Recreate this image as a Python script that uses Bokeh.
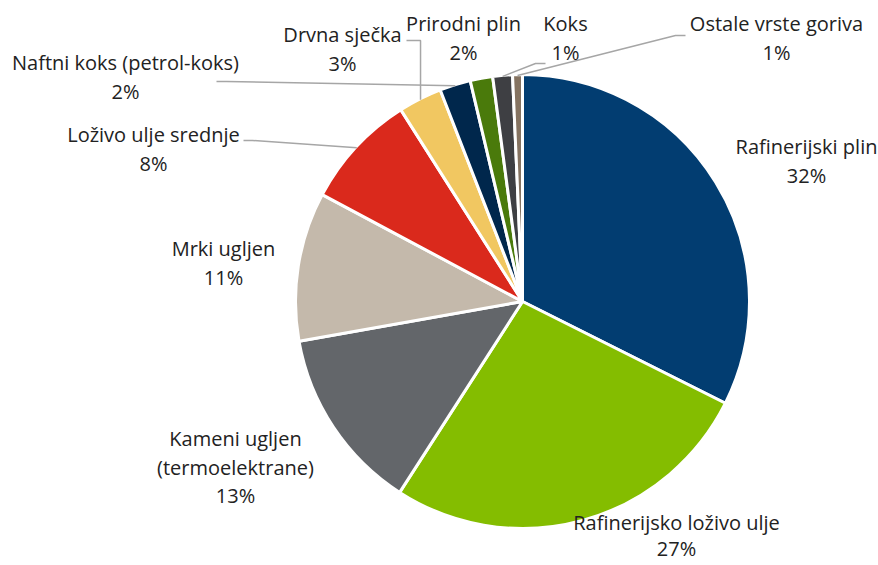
import numpy as np
from bokeh.plotting import figure
from bokeh.models import Range1d, ColumnDataSource
from bokeh.core.properties import value
from bokeh.embed import file_html
from bokeh.resources import INLINE

# ---- data ----
categories = ["Rafinerijski plin", "Rafinerijsko loživo ulje", "Kameni ugljen\n(termoelektrane)",
              "Mrki ugljen", "Loživo ulje srednje", "Drvna sječka", "Naftni koks (petrol-koks)",
              "Prirodni plin", "Koks", "Ostale vrste goriva"]
shares = [32.4, 26.7, 13.1, 10.6, 8.2, 3.1, 2.2, 1.6, 1.4, 0.7]
colors = ["#023D71", "#84BD00", "#63666A", "#C4B9AB", "#DA291C",
          "#F1C761", "#00274C", "#4A7A0B", "#3E3F43", "#857361"]

# ---- layout (pixel coords of the 878x565 page) ----
W, H = 878, 565
CX, CY, R = 522, 301, 227
label_pos = [(806, 146), (676, 522), (235, 438), (223, 248), (153, 134),
             (342, 34), (125, 62), (463, 23), (565, 23), (776, 23)]
LINE_GAP = 28.5
# leader lines: (anchor, elbow); elbow x None => same x as slice rim point
leaders = {4: ((243, 140), (252, 140)),
           5: ((406, 40), (None, 40)),
           6: ((216, 81), (226, 81)),
           8: ((545, 63), (535, 63)),
           9: ((685, 35), (675, 35))}

def Y(py):
    return H - py

p = figure(width=W, height=H, output_backend="svg", toolbar_location=None,
           x_range=Range1d(0, W), y_range=Range1d(0, H),
           x_axis_location=None, y_axis_location=None, min_border=0)
p.grid.visible = False
p.outline_line_color = None
p.background_fill_color = "white"
p.border_fill_color = "white"

vals = np.array(shares, dtype=float)
frac = vals / vals.sum()
cum = np.concatenate([[0], np.cumsum(frac)])
theta0 = cum[:-1] * 2 * np.pi  # clockwise from top
theta1 = cum[1:] * 2 * np.pi
src = ColumnDataSource(dict(start=np.pi / 2 - theta1, end=np.pi / 2 - theta0, color=colors))
p.wedge(x=CX, y=Y(CY), radius=R, start_angle="start", end_angle="end", direction="anticlock",
        fill_color="color", line_color="white", line_width=3, source=src)

# leader lines
for i, (anchor, elbow) in leaders.items():
    mid = (theta0[i] + theta1[i]) / 2
    rx = CX + (R - 1) * np.sin(mid)
    ry = CY - (R - 1) * np.cos(mid)
    ex = rx if elbow[0] is None else elbow[0]
    xs = [anchor[0], ex, rx]
    ys = [Y(anchor[1]), Y(elbow[1]), Y(ry)]
    p.line(xs, ys, line_color="#A6A6A6", line_width=1.5)

# labels
tx, ty, tt = [], [], []
for i, name in enumerate(categories):
    lines = name.split("\n") + ["%d%%" % int(round(shares[i]))]
    x0, y0 = label_pos[i]
    gap = LINE_GAP if i != 1 else 26.0
    for k, ln in enumerate(lines):
        tx.append(x0)
        ty.append(Y(y0 + k * gap))
        tt.append(ln)
p.text(x=tx, y=ty, text=tt, text_align="center", text_baseline="middle",
       text_font=value("Open Sans"), text_font_size="20px", text_color="#222222")

open("out.html", "w").write(file_html(p, INLINE))
